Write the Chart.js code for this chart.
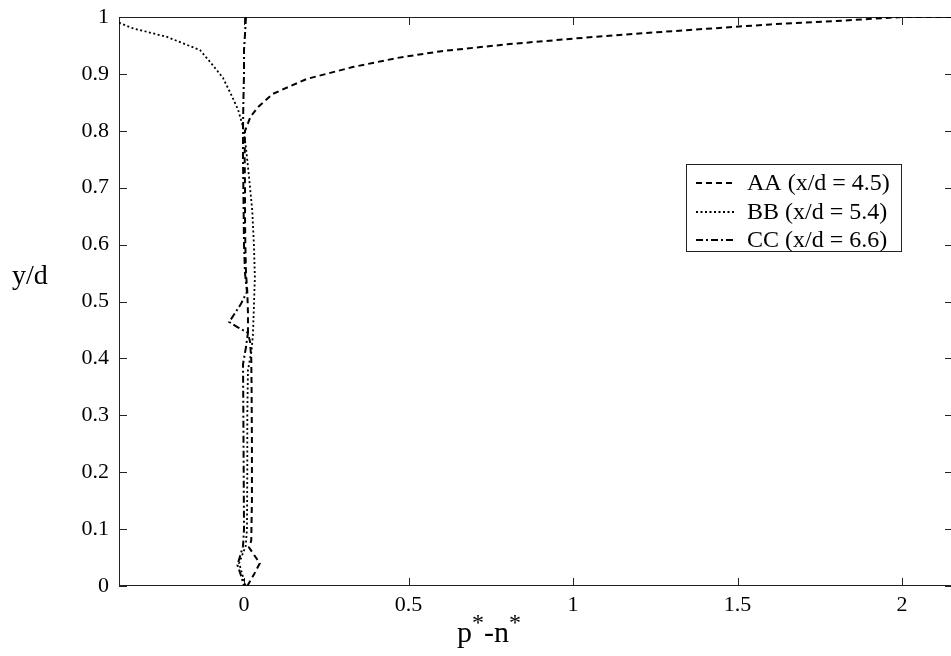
<!DOCTYPE html>
<html>
<head>
<meta charset="utf-8">
<script src="https://cdn.jsdelivr.net/npm/chart.js@4"></script>
<style>
  html, body { margin: 0; padding: 0; background: #fff; overflow: hidden; }
  #wrap { width: 951px; height: 656px; overflow: hidden; }
  #wrap canvas { display: block; }
</style>
</head>
<body>
<div id="wrap"><canvas id="grafico" width="953" height="656"></canvas></div>
<script>
// Datos (p*-n* contra y/d)
const xTicks = [0, 0.5, 1, 1.5, 2];
const yTicks = [0, 0.1, 0.2, 0.3, 0.4, 0.5, 0.6, 0.7, 0.8, 0.9, 1];
const nombres = ["AA (x/d = 4.5)", "BB (x/d = 5.4)", "CC (x/d = 6.6)"];

const aaX = [0.01, 0.03, 0.048, 0.03, 0.015, 0.022, 0.024, 0.024, 0.023, 0.022, 0.018, 0.012, 0.012, 0.01, 0.006, 0.004, 0.003, 0.003, 0.002, 0.003, 0.02, 0.043, 0.088, 0.19, 0.33, 0.465, 0.6, 0.8, 1.0, 1.2, 1.4, 1.6, 1.8, 2.0, 2.16];
const aaY = [0.0, 0.02, 0.04, 0.055, 0.068, 0.08, 0.15, 0.25, 0.35, 0.4, 0.43, 0.445, 0.48, 0.517, 0.55, 0.6, 0.65, 0.7, 0.75, 0.8, 0.825, 0.842, 0.865, 0.891, 0.912, 0.928, 0.94, 0.952, 0.962, 0.971, 0.979, 0.987, 0.993, 1.0, 1.0];

const bbX = [-0.38, -0.337, -0.234, -0.134, -0.103, -0.064, -0.036, -0.018, -0.003, 0.006, 0.015, 0.025, 0.03, 0.033, 0.03, 0.027, 0.022, 0.012, 0.01, 0.01, 0.009, 0.005, -0.015, -0.005, 0.005];
const bbY = [0.99, 0.98, 0.965, 0.942, 0.921, 0.893, 0.86, 0.837, 0.807, 0.77, 0.72, 0.66, 0.6, 0.543, 0.49, 0.44, 0.41, 0.38, 0.3, 0.2, 0.1, 0.07, 0.04, 0.02, 0.0];

const ccX = [0.006, 0.003, 0.0, 0.0, -0.002, -0.003, -0.003, -0.002, 0.0, 0.003, 0.009, -0.01, -0.045, -0.02, 0.012, 0.006, -0.003, -0.002, -0.001, 0.0, -0.003, -0.02, -0.01, 0.0];
const ccY = [1.0, 0.97, 0.942, 0.9, 0.85, 0.807, 0.75, 0.7, 0.6, 0.55, 0.517, 0.495, 0.464, 0.455, 0.445, 0.42, 0.39, 0.3, 0.2, 0.1, 0.07, 0.037, 0.02, 0.0];

const estilos = [
  { dash: [6, 4], ancho: 2 },
  { dash: [2, 2.5], ancho: 1.8 },
  { dash: [7, 3, 2, 3], ancho: 2 }
];

function puntos(xs, ys) {
  return xs.map((x, i) => ({ x: x, y: ys[i] }));
}

const serie = (n, xs, ys, i) => ({
  label: n,
  data: puntos(xs, ys),
  showLine: true,
  borderColor: "#000",
  borderWidth: estilos[i].ancho,
  borderDash: estilos[i].dash,
  pointRadius: 0,
  tension: 0,
  fill: false
});

// Marco, marcas hacia dentro, títulos y leyenda
const marcoPlugin = {
  id: "marco",
  beforeDatasetsDraw(chart) {
    const { ctx, chartArea: a, scales } = chart;
    ctx.save();
    ctx.strokeStyle = "#222";
    ctx.lineWidth = 1;
    ctx.setLineDash([]);
    ctx.strokeRect(a.left + 0.5, a.top + 0.5, a.right - a.left - 1, a.bottom - a.top - 1);
    ctx.beginPath();
    xTicks.forEach(v => {
      const px = Math.round(scales.x.getPixelForValue(v)) + 0.5;
      ctx.moveTo(px, a.bottom); ctx.lineTo(px, a.bottom - 8);
      ctx.moveTo(px, a.top); ctx.lineTo(px, a.top + 8);
    });
    yTicks.forEach(v => {
      const py = Math.round(scales.y.getPixelForValue(v)) + 0.5;
      ctx.moveTo(a.left, py); ctx.lineTo(a.left + 8, py);
      ctx.moveTo(a.right, py); ctx.lineTo(a.right - 8, py);
    });
    ctx.stroke();
    ctx.restore();
  },
  afterDraw(chart) {
    const ctx = chart.ctx;
    ctx.save();
    ctx.fillStyle = "#000";
    // título eje y
    ctx.font = "28px 'Liberation Serif'";
    ctx.textBaseline = "alphabetic";
    ctx.textAlign = "left";
    ctx.fillText("y/d", 12, 284);
    // título eje x con superíndices
    const partes = [["p", 30, 0], ["*", 24, 12], ["-n", 30, 0], ["*", 24, 12]];
    let total = 0;
    partes.forEach(p => { ctx.font = p[1] + "px 'Liberation Serif'"; total += ctx.measureText(p[0]).width; });
    let x = 489 - total / 2;
    partes.forEach(p => {
      ctx.font = p[1] + "px 'Liberation Serif'";
      ctx.fillText(p[0], x, 642 - p[2]);
      x += ctx.measureText(p[0]).width;
    });
    // leyenda
    const bx = 686, by = 164, bw = 215, bh = 87;
    ctx.fillStyle = "#fff";
    ctx.fillRect(bx, by, bw, bh);
    ctx.strokeStyle = "#222";
    ctx.lineWidth = 1;
    ctx.strokeRect(bx + 0.5, by + 0.5, bw, bh);
    const filas = [183, 212, 240];
    chart.data.datasets.forEach((d, i) => {
      ctx.beginPath();
      ctx.setLineDash(d.borderDash);
      ctx.lineWidth = d.borderWidth;
      ctx.strokeStyle = "#000";
      ctx.moveTo(696, filas[i]);
      ctx.lineTo(736, filas[i]);
      ctx.stroke();
      ctx.setLineDash([]);
      ctx.fillStyle = "#000";
      ctx.font = "24px 'Liberation Serif'";
      ctx.textBaseline = "middle";
      ctx.fillText(d.label, 747, filas[i] + 1);
    });
    ctx.restore();
  }
};

function cargarGrafico() {
  const ctx = document.getElementById("grafico");
  new Chart(ctx.getContext("2d"), {
    type: "scatter",
    data: {
      datasets: [
        serie(nombres[0], aaX, aaY, 0),
        serie(nombres[1], bbX, bbY, 1),
        serie(nombres[2], ccX, ccY, 2)
      ]
    },
    options: {
      responsive: false,
      animation: false,
      layout: { padding: { top: 17, left: 0, right: 0, bottom: 0 } },
      plugins: {
        legend: { display: false },
        tooltip: { enabled: false }
      },
      scales: {
        x: {
          type: "linear",
          min: -0.38,
          max: 2.155,
          afterBuildTicks: s => { s.ticks = xTicks.map(v => ({ value: v })); },
          afterFit: s => { s.height = 70; },
          grid: { display: false },
          border: { display: false },
          ticks: {
            color: "#000",
            padding: -2,
            maxRotation: 0,
            font: { family: "'Liberation Serif'", size: 22 },
            callback: v => String(v)
          }
        },
        y: {
          type: "linear",
          min: 0,
          max: 1,
          afterBuildTicks: s => { s.ticks = yTicks.map(v => ({ value: v })); },
          afterFit: s => { s.width = 119; s.paddingTop = 0; s.paddingBottom = 0; },
          grid: { display: false },
          border: { display: false },
          ticks: {
            color: "#000",
            padding: 2,
            font: { family: "'Liberation Serif'", size: 22, lineHeight: 1 },
            callback: v => String(Number(v.toFixed(1)))
          }
        }
      }
    },
    plugins: [marcoPlugin]
  });
}

cargarGrafico();
</script>
</body>
</html>
